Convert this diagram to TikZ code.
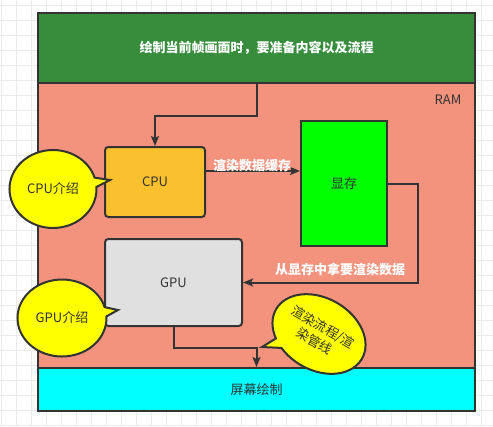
\documentclass[tikz,border=0pt]{standalone}
\usepackage{fontspec}
\setmainfont{Noto Sans CJK SC}
\usetikzlibrary{arrows.meta,shapes.callouts}

\definecolor{lineC}{RGB}{51,51,51}
\definecolor{headC}{RGB}{56,141,60}
\definecolor{ramC}{RGB}{244,147,125}
\definecolor{cpuC}{RGB}{251,192,45}
\definecolor{gpuC}{RGB}{224,224,224}
\definecolor{screenC}{RGB}{0,255,255}
\definecolor{vramC}{RGB}{0,255,0}
\definecolor{noteC}{RGB}{255,255,0}
\definecolor{gridC}{RGB}{235,235,235}

\tikzset{every picture/.style={line width=0.75pt}}
\tikzset{
  box/.style={draw=lineC,line width=1.5pt,inner sep=0pt,font=\fontsize{9.75}{12}\selectfont,text=lineC},
  unit/.style={box,rounded corners=2.5pt},
  bubble/.style={ellipse callout,draw=lineC,line width=1.5pt,fill=noteC,inner sep=0pt,callout pointer arc=14,font=\fontsize{9.75}{12}\selectfont,text=lineC},
  wlabel/.style={text=white,font=\bfseries\fontsize{9.75}{12}\selectfont,inner sep=0.75pt},
  link/.style={draw=lineC,line width=1.5pt,-{Stealth[length=7.5pt,width=6pt,inset=1.5pt]}}
}

\begin{document}
\begin{tikzpicture}[x=0.75pt,y=0.75pt,yscale=-1,xscale=1]
\useasboundingbox (0,0) rectangle (493,426);

%Grid
\foreach \gx in {1.7,16.7,...,493} \draw [gridC] (\gx,0) -- (\gx,426);
\foreach \gy in {5,20,...,426} \draw [gridC] (0,\gy) -- (493,\gy);

%Shape: Rectangle [header]
\node [box,fill=headC,minimum width=327.75pt,minimum height=52.5pt] (header) at (256.5,48) {};
%Shape: Rectangle [ram]
\node [box,fill=ramC,minimum width=327.75pt,minimum height=213.75pt] (ram) at (256.5,225.5) {};
%Shape: Rectangle [screen]
\node [box,fill=screenC,minimum width=327.75pt,minimum height=32.25pt] (screen) at (256.5,389.5) {屏幕绘制};

% Text Node
\node [wlabel] (title) at (header.center) {绘制当前帧画面时，要准备内容以及流程};
% Text Node
\node [inner sep=0.75pt,text=lineC,font=\fontsize{9.75}{12}\selectfont] (ramlabel) at (448,100) {RAM};

%Shape: Rounded Rect [cpu]
\node [unit,fill=cpuC,minimum width=75pt,minimum height=52.5pt] (cpu) at (155,182) {CPU};
%Shape: Rectangle [vram]
\node [box,fill=vramC,minimum width=64.5pt,minimum height=93.75pt] (vram) at (344,183.5) {显存};
%Shape: Rounded Rect [gpu]
\node [unit,fill=gpuC,minimum width=102.75pt,minimum height=65.25pt] (gpu) at (173.5,282.5) {GPU};

%Connectors
\draw [link] (header.south) -- ++(0,32) -| (cpu.north);
\coordinate (cpuout) at ([yshift=-8.25pt]cpu.east);
\draw [link] (cpuout) -- (cpuout -| vram.west);
\draw [link] (vram.east) -- ++(30,0) |- (gpu.east);
\draw [link] (gpu.south) -- ++(0,21) -| (screen.north);

% Text Node
\node [wlabel] (cachelabel) at (252,166) {渲染数据缓存};
% Text Node
\node [wlabel] (fetchlabel) at (340,269) {从显存中拿要渲染数据};

%Shape: Callouts
\node [bubble,minimum width=65.25pt,minimum height=58.5pt,callout absolute pointer={(110,180)}] (cpunote) at (53,189) {CPU介绍};
\node [bubble,minimum width=66.75pt,minimum height=57.75pt,callout absolute pointer={(118,310)}] (gpunote) at (62,318) {GPU介绍};
\node [bubble,rotate=-30,minimum width=74pt,minimum height=54pt,align=center,font=\fontsize{9.75}{12.5}\selectfont,callout absolute pointer={(262,347)}] (pipenote) at (319,334) {渲染流程/渲\\染管线};
\end{tikzpicture}
\end{document}
